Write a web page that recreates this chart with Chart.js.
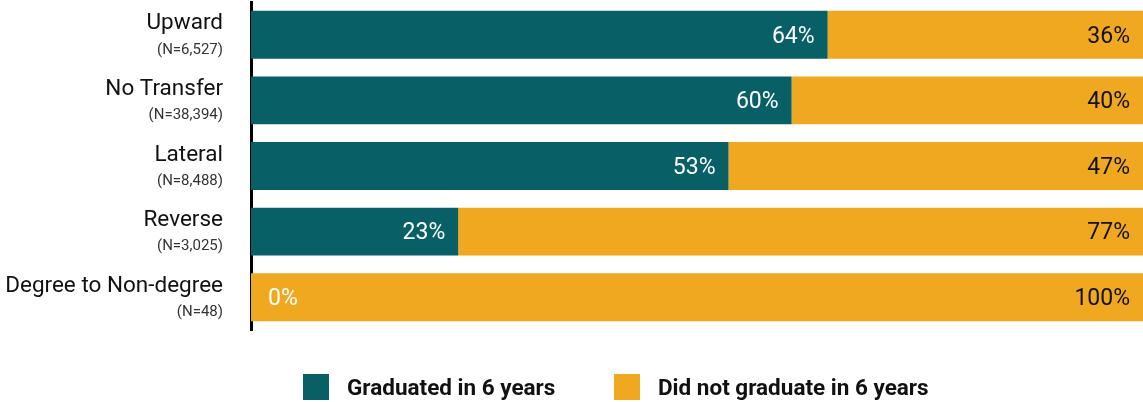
<!DOCTYPE html>
<html>
<head>
<meta charset="utf-8">
<script src="https://cdn.jsdelivr.net/npm/chart.js@4"></script>
<style>
  html, body { margin: 0; padding: 0; background: #fff; }
  #wrap { width: 1143px; height: 402px; }
</style>
</head>
<body>
<div id="wrap"><canvas id="chart"></canvas></div>
<script>
const categories = ["Upward", "No Transfer", "Lateral", "Reverse", "Degree to Non-degree"];
const sampleSizes = ["(N=6,527)", "(N=38,394)", "(N=8,488)", "(N=3,025)", "(N=48)"];
const graduated = [64, 60, 53, 23, 0];
const notGraduated = [36, 40, 47, 77, 100];
const seriesNames = ["Graduated in 6 years", "Did not graduate in 6 years"];

const TEAL = "#085f66";
const GOLD = "#f0a820";
const FONT = "Roboto, 'Liberation Sans', sans-serif";

// y labels (two fonts per row) + value labels + legend
const extras = {
    id: "extras",
    afterDraw(chart) {
        const ctx = chart.ctx;
        const y = chart.scales.y;
        const area = chart.chartArea;
        ctx.save();

        categories.forEach((c, i) => {
            const cy = y.getPixelForValue(i);
            ctx.textAlign = "right";
            ctx.textBaseline = "middle";
            ctx.fillStyle = "#111";
            ctx.font = "22.5px " + FONT;
            ctx.fillText(c, 223, cy - 11);
            ctx.fillStyle = "#333";
            ctx.font = "15px " + FONT;
            ctx.fillText(sampleSizes[i], 223, cy + 15);
        });

        ctx.font = "23px " + FONT;
        const m0 = chart.getDatasetMeta(0);
        const m1 = chart.getDatasetMeta(1);
        m0.data.forEach((bar, i) => {
            ctx.fillStyle = "#fff";
            ctx.textBaseline = "middle";
            if (graduated[i] === 0) {
                ctx.textAlign = "left";
                ctx.fillText(graduated[i] + "%", area.left + 17, bar.y + 2);
            } else {
                ctx.textAlign = "right";
                ctx.fillText(graduated[i] + "%", bar.x - 13, bar.y + 2);
            }
        });
        m1.data.forEach((bar, i) => {
            ctx.fillStyle = "#111";
            ctx.textAlign = "right";
            ctx.textBaseline = "middle";
            ctx.fillText(notGraduated[i] + "%", 1130, bar.y + 2);
        });

        // legend
        const items = [
            { x: 303, color: TEAL, text: seriesNames[0] },
            { x: 614, color: GOLD, text: seriesNames[1] }
        ];
        ctx.font = "bold 22.5px " + FONT;
        items.forEach(it => {
            ctx.fillStyle = it.color;
            ctx.fillRect(it.x, 374, 26, 26);
            ctx.fillStyle = "#111";
            ctx.textAlign = "left";
            ctx.textBaseline = "middle";
            ctx.fillText(it.text, it.x + 44, 389);
        });
        ctx.restore();
    }
};

new Chart(document.getElementById("chart"), {
    type: "bar",
    data: {
        labels: categories,
        datasets: [
            { label: seriesNames[0], data: graduated, backgroundColor: TEAL, categoryPercentage: 0.73, barPercentage: 1 },
            { label: seriesNames[1], data: notGraduated, backgroundColor: GOLD, categoryPercentage: 0.73, barPercentage: 1 }
        ]
    },
    options: {
        indexAxis: "y",
        responsive: true,
        maintainAspectRatio: false,
        animation: false,
        layout: { padding: { left: 243, top: 2, bottom: 72, right: 0 } },
        plugins: { legend: { display: false }, tooltip: { enabled: false } },
        scales: {
            x: { stacked: true, min: 0, max: 99, display: false },
            y: {
                stacked: true,
                ticks: { display: false },
                grid: { display: false },
                border: { display: true, color: "#000", width: 3 }
            }
        }
    },
    plugins: [extras]
});
</script>
</body>
</html>
